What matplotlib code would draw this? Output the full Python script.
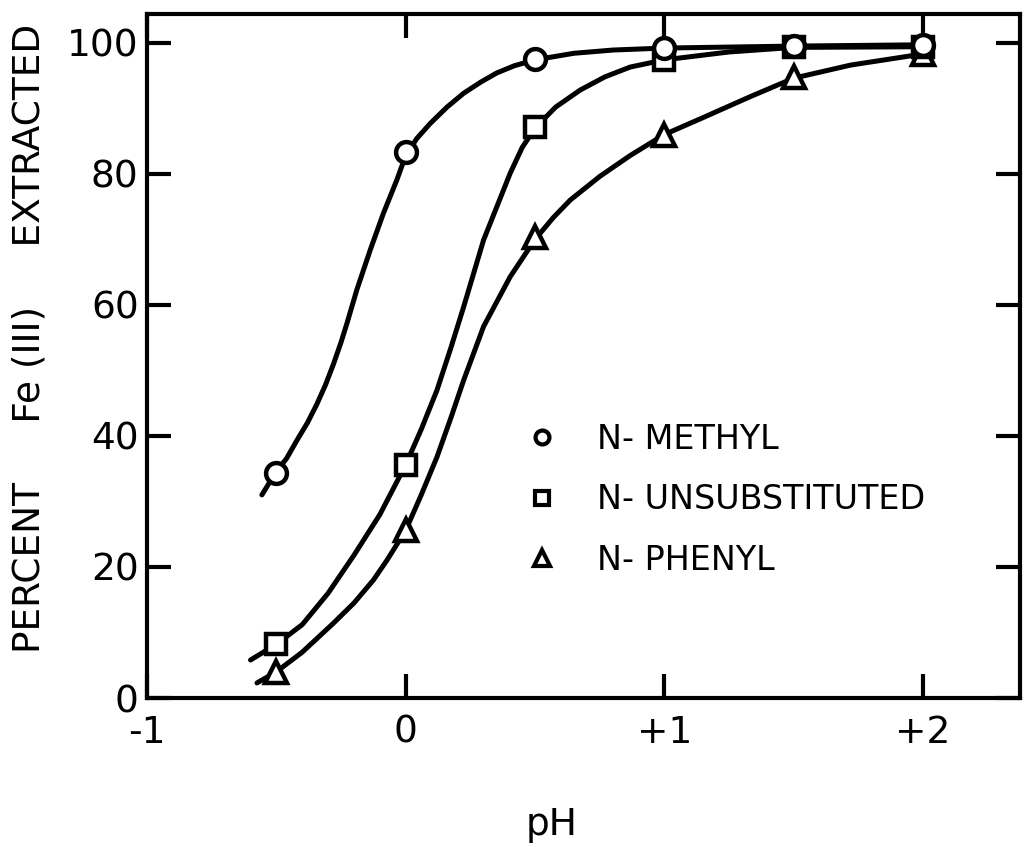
import numpy as np
import matplotlib.pyplot as plt
from matplotlib.lines import Line2D

# pH values at which extraction was measured
ph = [-0.5, 0.0, 0.5, 1.0, 1.5, 2.0]
methyl = [34.3, 83.3, 97.5, 99.2, 99.5, 99.7]
unsub = [8.2, 35.6, 87.2, 97.4, 99.3, 99.4]
phenyl = [4.0, 25.6, 70.4, 86.0, 94.8, 98.3]

# hand drawn curves
methyl_curve_x = [-0.556, -0.505, -0.46, -0.421, -0.38, -0.344, -0.31, -0.279, -0.25, -0.227,
                  -0.189, -0.137, -0.086, -0.034, 0.0, 0.043, 0.095, 0.16, 0.224, 0.29,
                  0.352, 0.42, 0.5, 0.65, 0.803, 1.0, 1.5, 2.0]
methyl_curve_y = [31.0, 34.3, 36.6, 39.3, 42.0, 44.8, 47.8, 51.0, 54.3, 57.2,
                  62.3, 68.4, 74.0, 79.1, 82.8, 85.4, 87.7, 90.2, 92.3, 94.0,
                  95.4, 96.5, 97.4, 98.4, 98.9, 99.2, 99.5, 99.7]

unsub_curve_x = [-0.6, -0.5, -0.4, -0.3, -0.2, -0.1, 0.0, 0.06, 0.121, 0.175, 0.224, 0.301,
                 0.404, 0.45, 0.5, 0.58, 0.675, 0.77, 0.868, 1.0, 1.25, 1.5, 2.0]
unsub_curve_y = [5.8, 8.2, 11.2, 16.0, 21.8, 28.0, 35.6, 41.0, 47.0, 53.5, 59.7, 69.9,
                 80.1, 84.0, 87.0, 90.2, 92.8, 94.8, 96.3, 97.4, 98.6, 99.3, 99.4]

phenyl_curve_x = [-0.575, -0.5, -0.4, -0.28, -0.2, -0.125, -0.073, 0.0, 0.06, 0.121, 0.175,
                  0.224, 0.301, 0.404, 0.5, 0.57, 0.636, 0.75, 0.868, 1.0, 1.139, 1.333,
                  1.5, 1.72, 2.0]
phenyl_curve_y = [2.3, 4.0, 7.0, 11.4, 14.5, 18.0, 21.0, 25.6, 31.0, 36.8, 42.8,
                  48.5, 56.7, 64.3, 70.0, 73.3, 76.0, 79.6, 82.8, 86.0, 88.4, 91.8,
                  94.6, 96.6, 98.3]

labels = ['N- METHYL', 'N- UNSUBSTITUTED', 'N- PHENYL']
xtick_vals = [-1, 0, 1, 2]
xtick_text = ['-1', '0', '+1', '+2']
ytick_vals = [0, 20, 40, 60, 80, 100]

plt.rcParams['font.family'] = ['DejaVu Sans']

fig = plt.figure(figsize=(10.29, 8.47), dpi=100)
ax = fig.add_axes([0.1429, 0.1759, 0.8484, 0.8076])

lw = 3.6
for cx, cy in [(phenyl_curve_x, phenyl_curve_y), (unsub_curve_x, unsub_curve_y),
               (methyl_curve_x, methyl_curve_y)]:
    ax.plot(cx, cy, color='black', lw=lw, solid_joinstyle='round',
            solid_capstyle='round', zorder=2)

mk = dict(ls='none', markerfacecolor='white', markeredgecolor='black', markeredgewidth=3.2)
ax.plot(ph, phenyl, marker='^', markersize=16, zorder=3, **mk)
ax.plot(ph, unsub, marker='s', markersize=14, zorder=4, **mk)
ax.plot(ph, methyl, marker='o', markersize=15, zorder=5, **mk)

ax.set_xlim(-1, 2.375)
ax.set_ylim(0, 104.4)
ax.set_xticks(xtick_vals)
ax.set_xticklabels(xtick_text)
ax.set_yticks(ytick_vals)

ax.tick_params(direction='in', length=17, width=3, labelsize=27, top=True, right=True)
ax.tick_params(axis='x', pad=12)
ax.tick_params(axis='y', pad=6)
for s in ax.spines.values():
    s.set_linewidth(3)

lmk = dict(ls='none', markerfacecolor='white', markeredgecolor='black', markeredgewidth=3)
handles = [Line2D([], [], marker='o', markersize=10, **lmk),
           Line2D([], [], marker='s', markersize=10, **lmk),
           Line2D([], [], marker='^', markersize=11, **lmk)]
ax.legend(handles, labels, loc='upper left', bbox_to_anchor=(0.433, 0.402),
          frameon=False, fontsize=24, handlelength=1.0, handletextpad=1.15,
          labelspacing=0.82, borderpad=0, borderaxespad=0)

fig.text(30 / 1029, 1 - 338 / 847, 'PERCENT     Fe (III)     EXTRACTED', rotation=90,
         ha='center', va='center', fontsize=27)
fig.text(552 / 1029, 1 - 835 / 847, 'pH', ha='center', va='baseline', fontsize=27)

fig.savefig('out.png', dpi=100)
